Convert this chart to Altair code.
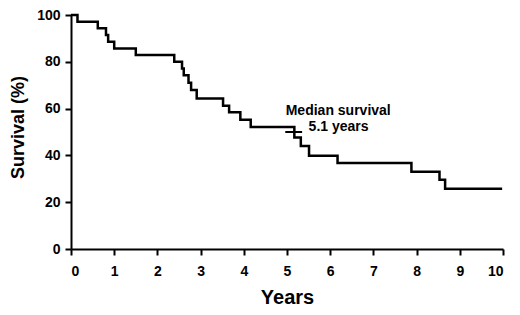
import altair as alt
import pandas as pd

# Kaplan-Meier step points (years, survival %)
years = [0.0, 0.15, 0.62, 0.81, 0.86, 1.0, 1.5, 2.39, 2.57, 2.61, 2.72, 2.78, 2.91,
         3.52, 3.66, 3.92, 4.16, 5.17, 5.32, 5.51, 6.17, 7.88, 8.53, 8.66, 9.98]
survival = [100.0, 97.1, 94.3, 91.4, 88.6, 85.7, 82.9, 80.0, 77.1, 74.3, 71.0, 68.0, 64.3,
            61.2, 58.4, 55.2, 52.1, 47.6, 44.0, 39.9, 36.7, 33.0, 29.6, 25.8, 25.8]

x_ticks = [0, 1, 2, 3, 4, 5, 6, 7, 8, 9, 10]
y_ticks = [0, 20, 40, 60, 80, 100]

median_marker = {"x": 4.96, "x2": 5.35, "y": 50.0}
annotations = [
    {"t": 4.97, "s": 57.2, "label": "Median survival"},
    {"t": 5.5, "s": 50.3, "label": "5.1 years"},
]

FONT = "Liberation Sans"

df = pd.DataFrame({"years": years, "survival": survival})
ann = pd.DataFrame(annotations)
med = pd.DataFrame([median_marker])

xscale = alt.Scale(domain=[0, 10], nice=False, zero=False)
yscale = alt.Scale(domain=[0, 100], nice=False)

line = alt.Chart(df).mark_line(interpolate="step-after", color="black", strokeWidth=2.5).encode(
    x=alt.X("years:Q", scale=xscale,
            axis=alt.Axis(values=x_ticks, title="Years", format="d",
                          titleFontSize=20, titleFont=FONT, titleFontWeight="bold",
                          titleBaseline="alphabetic", titleY=54, titleX=216,
                          labelPadding=9)),
    y=alt.Y("survival:Q", scale=yscale,
            axis=alt.Axis(values=y_ticks, title="Survival (%)", format="d",
                          titleFontSize=18, titleFont=FONT, titleFontWeight="bold",
                          titleAngle=-90, titleBaseline="middle", titleX=-53, titleY=112,
                          labelPadding=5)),
)

marker = alt.Chart(med).mark_rule(color="black", strokeWidth=2).encode(
    x="x:Q", x2="x2:Q", y="y:Q"
)

text = alt.Chart(ann).mark_text(align="left", baseline="alphabetic", fontSize=14,
                                fontWeight="bold", font=FONT, color="black").encode(
    x="t:Q", y="s:Q", text="label:N"
)

chart = alt.layer(line, marker, text).properties(
    width=432, height=234,
    padding={"left": 63, "top": 7, "right": 9, "bottom": 58},
    autosize=alt.AutoSizeParams(type="none"),
    background="white",
).configure_view(stroke=None).configure_axis(
    grid=False, domainColor="black", domainWidth=2, tickColor="black", tickWidth=2,
    tickSize=6, labelFont=FONT, labelFontSize=14, labelFontWeight="bold",
    labelColor="black", titleColor="black",
)

chart.save("out.html", embed_options={"renderer": "svg", "actions": False})
